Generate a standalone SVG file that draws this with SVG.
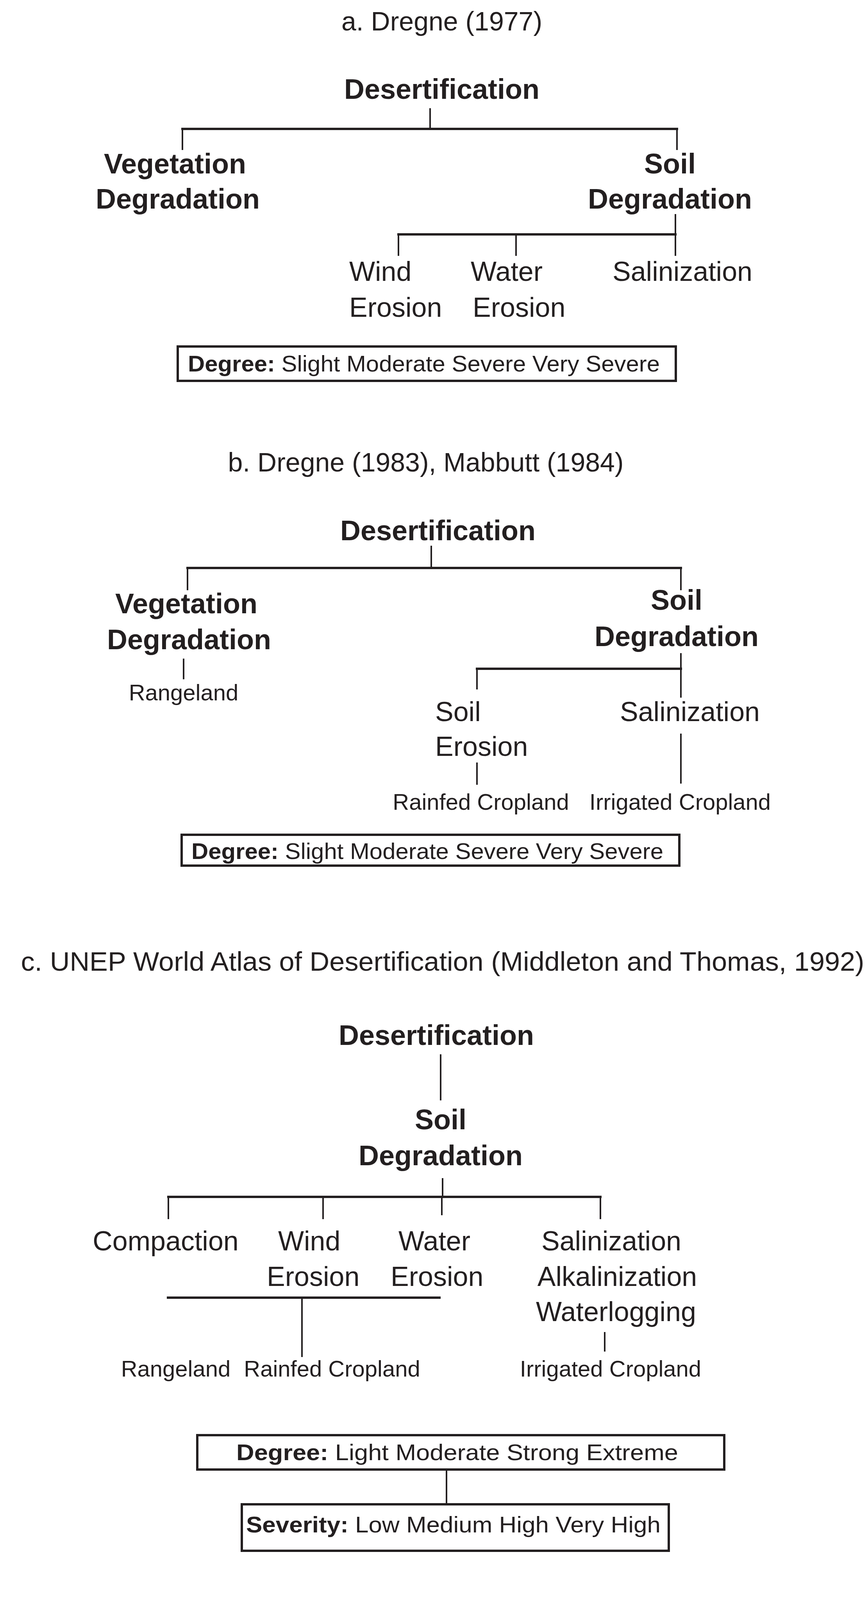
<svg xmlns="http://www.w3.org/2000/svg" width="2222" height="4702" viewBox="0 0 2222 4702">
<style>
text{font-family:"Liberation Sans",Arial,sans-serif;fill:#231f20}
.t{font-size:68px;text-anchor:middle}
.b{font-size:72px;font-weight:bold;text-anchor:middle}
.r{font-size:70px}
.rm{font-size:70px;text-anchor:middle}
.s{font-size:58px;text-anchor:middle}
.bx{font-size:58px}
.bx tspan.k{font-weight:bold}
.c line{stroke:#231f20;stroke-width:4}
.c line.h{stroke-width:6}
rect.box{fill:none;stroke:#231f20;stroke-width:6}
</style>
<rect width="2222" height="4702" fill="#fff"/>
<g id="a">
<text class="t" x="1131" y="78">a. Dregne (1977)</text>
<g id="a-des"><text class="b" x="1131" y="253">Desertification</text></g>
<g id="a-veg"><text class="b" x="448" y="444">Vegetation</text><text class="b" x="455" y="534">Degradation</text></g>
<g id="a-soil"><text class="b" x="1715" y="444">Soil</text><text class="b" x="1715" y="534">Degradation</text></g>
<g id="a-wind"><text class="r" x="894" y="719">Wind</text><text class="r" x="894" y="811">Erosion</text></g>
<g id="a-water"><text class="r" x="1205" y="719">Water</text><text class="r" x="1210" y="811">Erosion</text></g>
<g id="a-sal"><text class="r" x="1568" y="719">Salinization</text></g>
<g id="a-deg"><rect class="box" x="455" y="887" width="1275" height="88"/><text class="bx" x="481" y="951" textLength="1208" lengthAdjust="spacingAndGlyphs"><tspan class="k">Degree:</tspan> Slight  Moderate  Severe  Very Severe</text></g>
<g class="c">
<line x1="1101" y1="277" x2="1101" y2="330"/>
<line class="h" x1="464" y1="330" x2="1736" y2="330"/>
<line x1="467" y1="330" x2="467" y2="384"/>
<line x1="1733" y1="330" x2="1733" y2="384"/>
<line x1="1729" y1="548" x2="1729" y2="655"/>
<line class="h" x1="1017" y1="600" x2="1732" y2="600"/>
<line x1="1020" y1="600" x2="1020" y2="655"/>
<line x1="1321" y1="600" x2="1321" y2="655"/>
</g>
</g>
<g id="b">
<text class="t" x="1090" y="1207">b. Dregne (1983), Mabbutt (1984)</text>
<g id="b-des"><text class="b" x="1121" y="1383">Desertification</text></g>
<g id="b-veg"><text class="b" x="477" y="1570">Vegetation</text><text class="b" x="484" y="1662">Degradation</text></g>
<g id="b-range"><text class="s" x="470" y="1793">Rangeland</text></g>
<g id="b-soil"><text class="b" x="1732" y="1561">Soil</text><text class="b" x="1732" y="1654">Degradation</text></g>
<g id="b-eros"><text class="r" x="1114" y="1846">Soil</text><text class="r" x="1114" y="1935">Erosion</text></g>
<g id="b-sal"><text class="r" x="1587" y="1846">Salinization</text></g>
<g id="b-rain"><text class="s" x="1231" y="2073">Rainfed Cropland</text></g>
<g id="b-irr"><text class="s" x="1741" y="2073">Irrigated Cropland</text></g>
<g id="b-deg"><rect class="box" x="465" y="2137" width="1274" height="79"/><text class="bx" x="490" y="2199" textLength="1208" lengthAdjust="spacingAndGlyphs"><tspan class="k">Degree:</tspan> Slight  Moderate  Severe  Very Severe</text></g>
<g class="c">
<line x1="1104" y1="1397" x2="1104" y2="1454"/>
<line class="h" x1="477" y1="1454" x2="1746" y2="1454"/>
<line x1="480" y1="1454" x2="480" y2="1511"/>
<line x1="1743" y1="1454" x2="1743" y2="1511"/>
<line x1="470" y1="1686" x2="470" y2="1739"/>
<line x1="1743" y1="1672" x2="1743" y2="1786"/>
<line class="h" x1="1218" y1="1712" x2="1746" y2="1712"/>
<line x1="1221" y1="1712" x2="1221" y2="1765"/>
<line x1="1221" y1="1952" x2="1221" y2="2009"/>
<line x1="1743" y1="1878" x2="1743" y2="2006"/>
</g>
</g>
<g id="c">
<text class="t" x="1133" y="2485" textLength="2159" lengthAdjust="spacingAndGlyphs">c. UNEP World Atlas of Desertification (Middleton and Thomas, 1992)</text>
<g id="c-des"><text class="b" x="1117" y="2675">Desertification</text></g>
<g id="c-soil"><text class="b" x="1128" y="2891">Soil</text><text class="b" x="1128" y="2983">Degradation</text></g>
<g id="c-comp"><text class="rm" x="424" y="3201">Compaction</text></g>
<g id="c-wind"><text class="r" x="712" y="3201">Wind</text><text class="r" x="683" y="3292">Erosion</text></g>
<g id="c-water"><text class="r" x="1020" y="3201">Water</text><text class="r" x="1000" y="3292">Erosion</text></g>
<g id="c-sal"><text class="rm" x="1565" y="3201">Salinization</text><text class="rm" x="1580" y="3292">Alkalinization</text><text class="rm" x="1577" y="3382">Waterlogging</text></g>
<g id="c-range"><text class="s" x="450" y="3524">Rangeland</text></g>
<g id="c-rain"><text class="s" x="850" y="3524">Rainfed Cropland</text></g>
<g id="c-irr"><text class="s" x="1563" y="3524">Irrigated Cropland</text></g>
<g id="c-deg"><rect class="box" x="505" y="3674" width="1349" height="88"/><text class="bx" x="605" y="3738" textLength="1131" lengthAdjust="spacingAndGlyphs"><tspan class="k">Degree:</tspan>  Light  Moderate  Strong   Extreme</text></g>
<g id="c-sev"><rect class="box" x="619" y="3851" width="1093" height="119"/><text class="bx" x="630" y="3923" textLength="1061" lengthAdjust="spacingAndGlyphs"><tspan class="k">Severity:</tspan> Low  Medium  High  Very High</text></g>
<g class="c">
<line x1="1128" y1="2699" x2="1128" y2="2817"/>
<line x1="1133" y1="3016" x2="1133" y2="3064"/>
<line class="h" x1="428" y1="3064" x2="1540" y2="3064"/>
<line x1="431" y1="3064" x2="431" y2="3121"/>
<line x1="827" y1="3064" x2="827" y2="3121"/>
<line x1="1131" y1="3064" x2="1131" y2="3111"/>
<line x1="1537" y1="3064" x2="1537" y2="3121"/>
<line class="h" x1="427" y1="3322" x2="1128" y2="3322"/>
<line x1="773" y1="3322" x2="773" y2="3474"/>
<line x1="1548" y1="3410" x2="1548" y2="3460"/>
<line x1="1143" y1="3762" x2="1143" y2="3851"/>
</g>
</g>
<g id="d">
<text class="t" x="1105" y="4224" textLength="2158" lengthAdjust="spacingAndGlyphs">d. Land Degradation Assessment in Drylands (LADA) (Bai et al., 2008)</text>
<g id="d-dry"><text class="b" x="1150" y="4360">Dryland Degradation</text></g>
<g id="d-veg"><text class="b" x="1118" y="4571">Vegetation</text><text class="b" x="1125" y="4659">Productivity</text></g>
<g class="c"><line x1="1113" y1="4383" x2="1113" y2="4502"/></g>
</g>
</svg>
